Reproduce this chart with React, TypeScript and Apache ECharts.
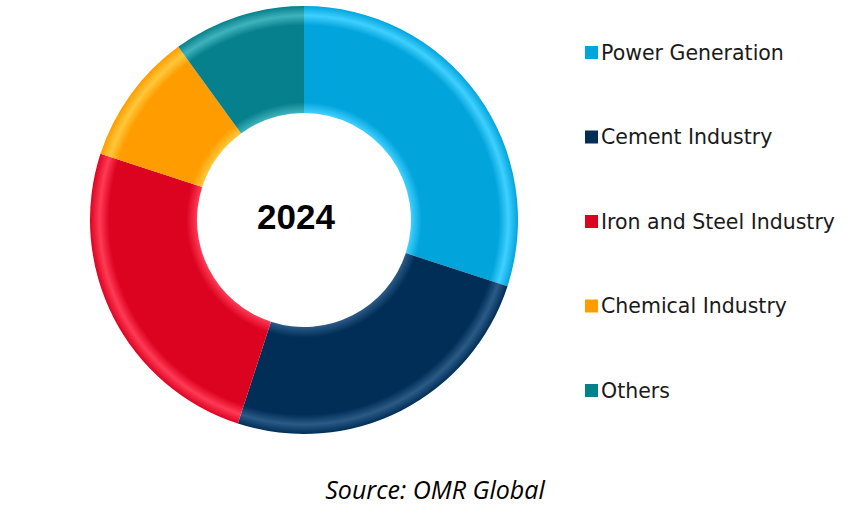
import React, { useEffect, useRef } from "react";
import * as echarts from "echarts";

const categories = [
  "Power Generation",
  "Cement Industry",
  "Iron and Steel Industry",
  "Chemical Industry",
  "Others",
];
const values = [30, 25, 25, 10, 10];
const colors = ["#02A4DC", "#002E57", "#DC0321", "#FF9C00", "#06808C"];
const lightColors = ["#3FD0FF", "#2A5A86", "#FF3A55", "#FFC83A", "#3FB3BD"];
const centerLabel = "2024";
const sourceText = "Source: OMR Global";

const CX = 304;
const CY = 220;
const R_OUT = 214;
const R_IN = 107;

export default function App() {
  const ref = useRef<HTMLDivElement>(null);
  useEffect(() => {
    document.body.style.margin = "0";
    const chart = echarts.init(ref.current!, null, { renderer: "svg" });
    const grad = (i: number) =>
      new echarts.graphic.RadialGradient(
        CX,
        CY,
        R_OUT,
        [
          { offset: 0, color: lightColors[i] },
          { offset: R_IN / R_OUT, color: lightColors[i] },
          { offset: R_IN / R_OUT + 0.05, color: colors[i] },
          { offset: 0.91, color: colors[i] },
          { offset: 0.955, color: lightColors[i] },
          { offset: 1, color: colors[i] },
        ],
        true
      );
    chart.setOption({
      animation: false,
      legend: {
        orient: "vertical",
        left: 580,
        top: 37,
        itemWidth: 13,
        itemHeight: 13,
        itemGap: 63.5,
        icon: "rect",
        selectedMode: false,
        textStyle: {
          fontFamily: "DejaVu Sans",
          fontSize: 20.5,
          lineHeight: 20,
          color: "#1a1a1a",
          padding: [0, 0, 0, -2],
        },
        data: categories.map((name, i) => ({
          name,
          itemStyle: { color: colors[i] },
        })),
      },
      series: [
        {
          type: "pie",
          center: [CX, CY],
          radius: [R_IN, R_OUT],
          startAngle: 90,
          clockwise: true,
          label: { show: false },
          labelLine: { show: false },
          silent: true,
          data: categories.map((name, i) => ({
            name,
            value: values[i],
            itemStyle: { color: grad(i) },
          })),
        },
      ],
      graphic: [
        {
          type: "text",
          x: 296,
          y: 216,
          style: {
            text: centerLabel,
            fontFamily: "Liberation Sans",
            fontWeight: "bold",
            fontSize: 35,
            fill: "#000",
            align: "center",
            verticalAlign: "middle",
          },
        },
        {
          type: "text",
          x: 435,
          y: 489,
          style: {
            text: sourceText,
            fontFamily: "Open Sans",
            fontStyle: "italic",
            fontSize: 25,
            fill: "#000",
            align: "center",
            verticalAlign: "middle",
          },
        },
      ],
    });
    return () => chart.dispose();
  }, []);
  return <div ref={ref} style={{ width: 864, height: 515 }} />;
}
